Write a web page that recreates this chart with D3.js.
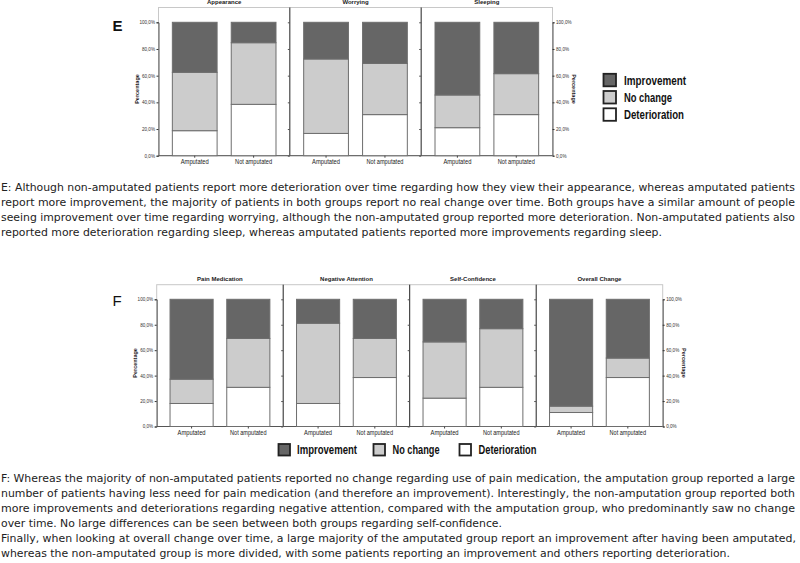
<!DOCTYPE html>
<html><head><meta charset="utf-8">
<script src="https://cdn.jsdelivr.net/npm/d3@7"></script>
<style>body{margin:0;background:#fff}svg{display:block}</style>
</head><body>
<svg id="c" width="800" height="563"></svg>
<script>
// ---- data ----
const groups = ["Amputated", "Not amputated"];
const seriesNames = ["Deterioration", "No change", "Improvement"];
const legendOrder = ["Improvement", "No change", "Deterioration"];
const yTicks = [0, 20, 40, 60, 80, 100];

const categoriesE = ["Appearance", "Worrying", "Sleeping"];
const deteriorationE = [[18.75, 38.5], [16.7, 30.8], [21.0, 30.8]];
const noChangeE      = [[43.75, 46.2], [55.8, 38.4], [24.5, 30.7]];
const improvementE   = [[37.5, 15.3], [27.5, 30.8], [54.5, 38.5]];

const categoriesF = ["Pain Medication", "Negative Attention", "Self-Confidence", "Overall Change"];
const deteriorationF = [[18.1, 30.8], [18.1, 38.5], [22.3, 30.8], [11.0, 38.5]];
const noChangeF      = [[19.1, 38.4], [63.1, 30.7], [44.2, 46.1], [5.0, 15.3]];
const improvementF   = [[62.8, 30.8], [18.8, 30.8], [33.5, 23.1], [84.0, 46.2]];

const paraE = [
 "E: Although non-amputated patients report more deterioration over time regarding how they view their appearance, whereas amputated patients",
 "report more improvement, the majority of patients in both groups report no real change over time. Both groups have a similar amount of people",
 "seeing improvement over time regarding worrying, although the non-amputated group reported more deterioration. Non-amputated patients also",
 "reported more deterioration regarding sleep, whereas amputated patients reported more improvements regarding sleep."
];
const paraF = [
 "F: Whereas the majority of non-amputated patients reported no change regarding use of pain medication, the amputation group reported a large",
 "number of patients having less need for pain medication (and therefore an improvement). Interestingly, the non-amputation group reported both",
 "more improvements and deteriorations regarding negative attention, compared with the amputation group, who predominantly saw no change",
 "over time. No large differences can be seen between both groups regarding self-confidence."
];
const paraF2 = [
 "Finally, when looking at overall change over time, a large majority of the amputated group report an improvement after having been amputated,",
 "whereas the non-amputated group is more divided, with some patients reporting an improvement and others reporting deterioration."
];

// ---- drawing ----
const svg = d3.select("#c");
svg.append("rect").attr("width", 800).attr("height", 563).attr("fill", "#fff");
const colors = d3.scaleOrdinal().domain(seriesNames).range(["#ffffff", "#cccccc", "#666666"]);
const loc = d3.formatLocale({decimal: ",", thousands: ".", grouping: [3], currency: ["", "€"]});
const pct = v => loc.format(".1f")(v) + "%";
const FONT = "Liberation Sans, Arial, sans-serif";

function panelChart(cfg) {
  const {cats, det, nc, imp, x0, x1, yBot, yTop100, frameTop, letter, letterBold, letterY, titleY, groupW} = cfg;
  const g = svg.append("g");
  const px = d3.scaleBand().domain(cats).range([x0, x1]).padding(0);
  const y = d3.scaleLinear().domain([0, 100]).range([yBot, yTop100]);
  const xb = d3.scaleBand().domain(groups).range([0, px.bandwidth()]).paddingInner(0.24).paddingOuter(0.235);

  // frame
  g.append("rect").attr("x", x0).attr("y", frameTop).attr("width", x1 - x0).attr("height", yBot - frameTop)
    .attr("fill", "none").attr("stroke", "#c8c8c8").attr("stroke-width", 1);
  cats.forEach((c, i) => {
    if (i > 0) g.append("line").attr("x1", px(c)).attr("x2", px(c)).attr("y1", frameTop).attr("y2", yBot)
      .attr("stroke", "#222").attr("stroke-width", 1);
  });
  // y axes
  const left = g.append("g").attr("transform", `translate(${x0},0)`)
    .call(d3.axisLeft(y).tickValues(yTicks).tickFormat(pct).tickSize(2).tickPadding(1.5));
  const right = g.append("g").attr("transform", `translate(${x1},0)`)
    .call(d3.axisRight(y).tickValues(yTicks).tickFormat(pct).tickSize(2).tickPadding(1.5));
  [left, right].forEach(a => {
    a.select(".domain").attr("stroke", "#555");
    a.selectAll(".tick line").attr("stroke", "#333");
    a.selectAll("text").attr("font-size", 4.6).attr("font-family", FONT).attr("fill", "#333");
  });
  // divider ticks
  cats.forEach((c, i) => {
    if (i > 0) g.append("g").attr("transform", `translate(${px(c)},0)`)
      .call(d3.axisLeft(y).tickValues(yTicks).tickFormat("").tickSize(2))
      .call(a => { a.select(".domain").remove(); a.selectAll("line").attr("stroke", "#555"); });
  });
  // bottom axis line
  g.append("line").attr("x1", x0).attr("x2", x1).attr("y1", yBot).attr("y2", yBot).attr("stroke", "#555");

  // bars
  cats.forEach((c, ci) => {
    const rows = groups.map((gr, gi) => ({group: gr, "Deterioration": det[ci][gi], "No change": nc[ci][gi], "Improvement": imp[ci][gi]}));
    const stacked = d3.stack().keys(seriesNames)(rows);
    const pg = g.append("g").attr("transform", `translate(${px(c)},0)`);
    stacked.forEach(s => {
      pg.selectAll(null).data(s).join("rect")
        .attr("x", d => xb(d.data.group)).attr("width", xb.bandwidth())
        .attr("y", d => y(d[1])).attr("height", d => y(d[0]) - y(d[1]))
        .attr("fill", colors(s.key)).attr("stroke", "#6e6e6e").attr("stroke-width", 1);
    });
    // x ticks and labels
    groups.forEach(gr => {
      const cx = xb(gr) + xb.bandwidth() / 2;
      pg.append("line").attr("x1", cx).attr("x2", cx).attr("y1", yBot).attr("y2", yBot + 2).attr("stroke", "#444");
      pg.append("text").attr("x", cx).attr("y", yBot + 8.5).attr("text-anchor", "middle")
        .attr("font-family", FONT).attr("font-size", 6.3).attr("fill", "#222")
        .attr("textLength", gr === "Amputated" ? groupW[0] : groupW[1]).attr("lengthAdjust", "spacingAndGlyphs")
        .text(gr);
    });
    pg.append("text").attr("x", px.bandwidth() / 2).attr("y", titleY).attr("text-anchor", "middle")
      .attr("font-family", FONT).attr("font-size", 6).attr("font-weight", "bold").attr("fill", "#222").text(c);
  });
  // Percentage labels
  const midY = (y(0) + y(100)) / 2;
  g.append("text").attr("transform", `translate(${x0 - 19.5},${midY}) rotate(-90)`).attr("text-anchor", "middle")
    .attr("font-family", FONT).attr("font-size", 5.5).attr("font-weight", "bold").attr("fill", "#222").text("Percentage");
  g.append("text").attr("transform", `translate(${x1 + 19},${midY}) rotate(90)`).attr("text-anchor", "middle")
    .attr("font-family", FONT).attr("font-size", 5.5).attr("font-weight", "bold").attr("fill", "#222").text("Percentage");
  // panel letter
  svg.append("text").attr("x", 112.5).attr("y", letterY).attr("font-family", FONT).attr("font-size", 15)
    .attr("font-weight", letterBold ? "bold" : "normal").attr("fill", "#111").text(letter);
}

panelChart({cats: categoriesE, det: deteriorationE, nc: noChangeE, imp: improvementE,
  x0: 158.5, x1: 552.5, yBot: 155.7, yTop100: 22.3, frameTop: 7.5, letter: "E", letterBold: true, letterY: 31,
  titleY: 4, groupW: [28, 37]});
panelChart({cats: categoriesF, det: deteriorationF, nc: noChangeF, imp: improvementF,
  x0: 156.7, x1: 662.7, yBot: 426.5, yTop100: 299.3, frameTop: 284.7, letter: "F", letterBold: false, letterY: 306,
  titleY: 281.3, groupW: [28, 36.5]});

// legends
function legend(items) {
  items.forEach(it => {
    svg.append("rect").attr("x", it.bx).attr("y", it.by).attr("width", it.s).attr("height", it.s)
      .attr("fill", colors(it.name)).attr("stroke", "#222").attr("stroke-width", 1.8);
    svg.append("text").attr("x", it.tx).attr("y", it.ty).attr("font-family", FONT).attr("font-size", 12.5)
      .attr("font-weight", "bold").attr("fill", "#111")
      .attr("textLength", it.w).attr("lengthAdjust", "spacingAndGlyphs").text(it.name);
  });
}
const wE = {"Improvement": 62, "No change": 48, "Deterioration": 60};
legend(legendOrder.map((n, i) => ({name: n, bx: 603.5, by: [73.8, 91, 108.3][i], s: 12.5,
  tx: 624, ty: [85.2, 102.2, 119.2][i], w: wE[n]})));
const wF = {"Improvement": 60, "No change": 47, "Deterioration": 58};
legend(legendOrder.map((n, i) => ({name: n, bx: [278.5, 373.5, 459.5][i], by: 444, s: 11.5,
  tx: [297, 392.5, 478.5][i], ty: 453.8, w: wF[n]})));

// paragraphs
function para(lines, baseY, step, widths) {
  lines.forEach((t, i) => {
    svg.append("text").attr("x", 1).attr("y", baseY + i * step).attr("font-family", "DejaVu Sans, Verdana, sans-serif")
      .attr("font-size", 10.9).attr("fill", "#222")
      .attr("textLength", widths[i]).attr("lengthAdjust", "spacingAndGlyphs").text(t);
  });
}
para(paraE, 190.6, 15, [794, 794, 794, 661]);
para(paraF, 482.4, 14.85, [794, 794, 794, 501]);
para(paraF2, 542.2, 14.8, [795, 729]);
</script>
</body></html>
